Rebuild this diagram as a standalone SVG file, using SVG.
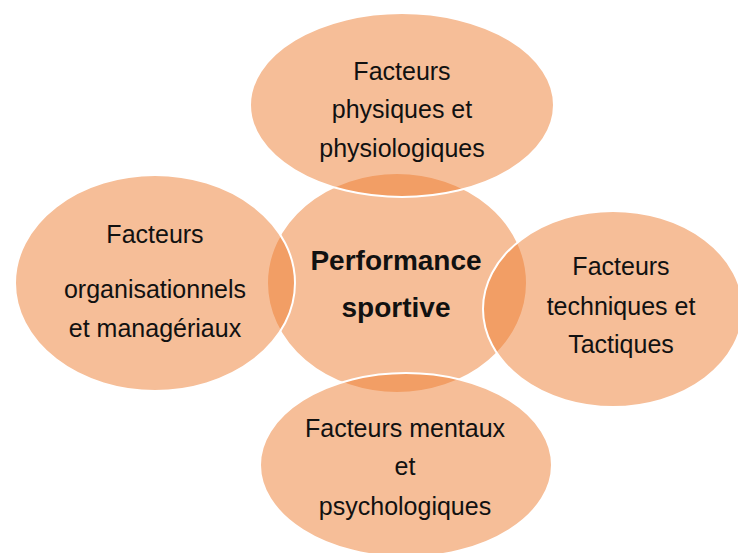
<svg xmlns="http://www.w3.org/2000/svg" width="738" height="553" viewBox="0 0 738 553">
<style>
.n{fill:#ED7D31;fill-opacity:0.5;stroke:#FFFFFF;stroke-width:2}
.t{font-family:"Liberation Sans",Arial,sans-serif;font-size:25px;fill:#111;text-anchor:middle}
.b{font-weight:bold;font-size:28px}
</style>
<rect width="738" height="553" fill="#FFFFFF"/>
<g id="connectors"></g>
<g id="center"><ellipse class="n" cx="397" cy="283" rx="130" ry="110"/></g>
<g id="top"><ellipse class="n" cx="402" cy="105" rx="152" ry="92"/></g>
<g id="left"><ellipse class="n" cx="155" cy="283" rx="140" ry="108"/></g>
<g id="right"><ellipse class="n" cx="613" cy="309" rx="130" ry="98"/></g>
<g id="bottom"><ellipse class="n" cx="406" cy="465" rx="146" ry="92"/></g>
<g id="labels">
<text class="t" x="402" y="80">Facteurs</text>
<text class="t" x="402" y="118">physiques et</text>
<text class="t" x="402" y="157">physiologiques</text>
<text class="t" x="155" y="243">Facteurs</text>
<text class="t" x="155" y="298">organisationnels</text>
<text class="t" x="155" y="337">et managériaux</text>
<text class="t b" x="396" y="270">Performance</text>
<text class="t b" x="396" y="317">sportive</text>
<text class="t" x="621" y="275">Facteurs</text>
<text class="t" x="621" y="315">techniques et</text>
<text class="t" x="621" y="353">Tactiques</text>
<text class="t" x="405" y="437">Facteurs mentaux</text>
<text class="t" x="405" y="475">et</text>
<text class="t" x="405" y="515">psychologiques</text>
</g>
</svg>
